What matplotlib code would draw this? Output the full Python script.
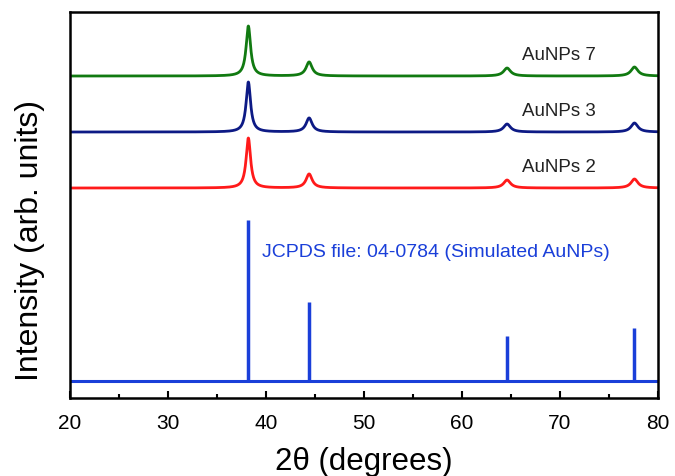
import numpy as np
import matplotlib
matplotlib.use("Agg")
import matplotlib.pyplot as plt
from matplotlib.ticker import MultipleLocator

plt.rcParams["font.family"] = ["Liberation Sans", "DejaVu Sans"]

# reflexions de l'or (2theta) et intensites
PEAKS = [38.2, 44.4, 64.6, 77.6]
HEIGHTS = [50, 14, 8, 9]
FWHM = [0.55, 0.75, 0.85, 0.85]

# decalages verticaux des diagrammes
SAMPLES = ["AuNPs 2", "AuNPs 3", "AuNPs 7"]
OFFSETS = [210, 266, 322]
COLORS = ["#ff1a1a", "#0d1a85", "#117a11"]

# fiche JCPDS 04-0784
JCPDS_POS = [38.2, 44.4, 64.6, 77.6]
JCPDS_INT = [161, 79, 45, 53]
JCPDS_BASE = 17

two_theta = np.linspace(20, 80, 3000)


def pattern(offset):
    y = np.full_like(two_theta, float(offset))
    for p, h, w in zip(PEAKS, HEIGHTS, FWHM):
        g = w / 2
        y += h * g**2 / ((two_theta - p)**2 + g**2)
    return y


fig = plt.figure(figsize=(6.75, 4.77), dpi=100)
ax = fig.add_axes([0.1037, 0.1635, 0.8711, 0.8092])

for name, off, c in zip(SAMPLES, OFFSETS, COLORS):
    ax.plot(two_theta, pattern(off), color=c, lw=2)
    ax.text(66.1, off + 22, name, fontsize=13.5, color="#222222", va="center")

ax.axhline(JCPDS_BASE, color="#1a3fd9", lw=2.2)
ax.vlines(JCPDS_POS, JCPDS_BASE, [JCPDS_BASE + i for i in JCPDS_INT],
          color="#1a3fd9", lw=2.5)
ax.text(39.6, 147, "JCPDS file: 04-0784 (Simulated AuNPs)",
        fontsize=14, color="#1a3fd9", va="center")

ax.set_xlim(20, 80)
ax.set_ylim(0, 386)
ax.xaxis.set_major_locator(MultipleLocator(10))
ax.xaxis.set_minor_locator(MultipleLocator(5))
ax.tick_params(axis="x", which="major", direction="in", length=5, width=1.5,
               labelsize=15, pad=11)
ax.tick_params(axis="x", which="minor", direction="in", length=3, width=1.5)
ax.set_yticks([])
for s in ax.spines.values():
    s.set_linewidth(1.8)

ax.set_xlabel("2\u03b8 (degrees)", fontsize=22.5, labelpad=10)
ax.set_ylabel("Intensity (arb. units)", fontsize=23)
ax.yaxis.set_label_coords(-0.043, 0.41)

fig.savefig("out.png", dpi=100, facecolor="white")
